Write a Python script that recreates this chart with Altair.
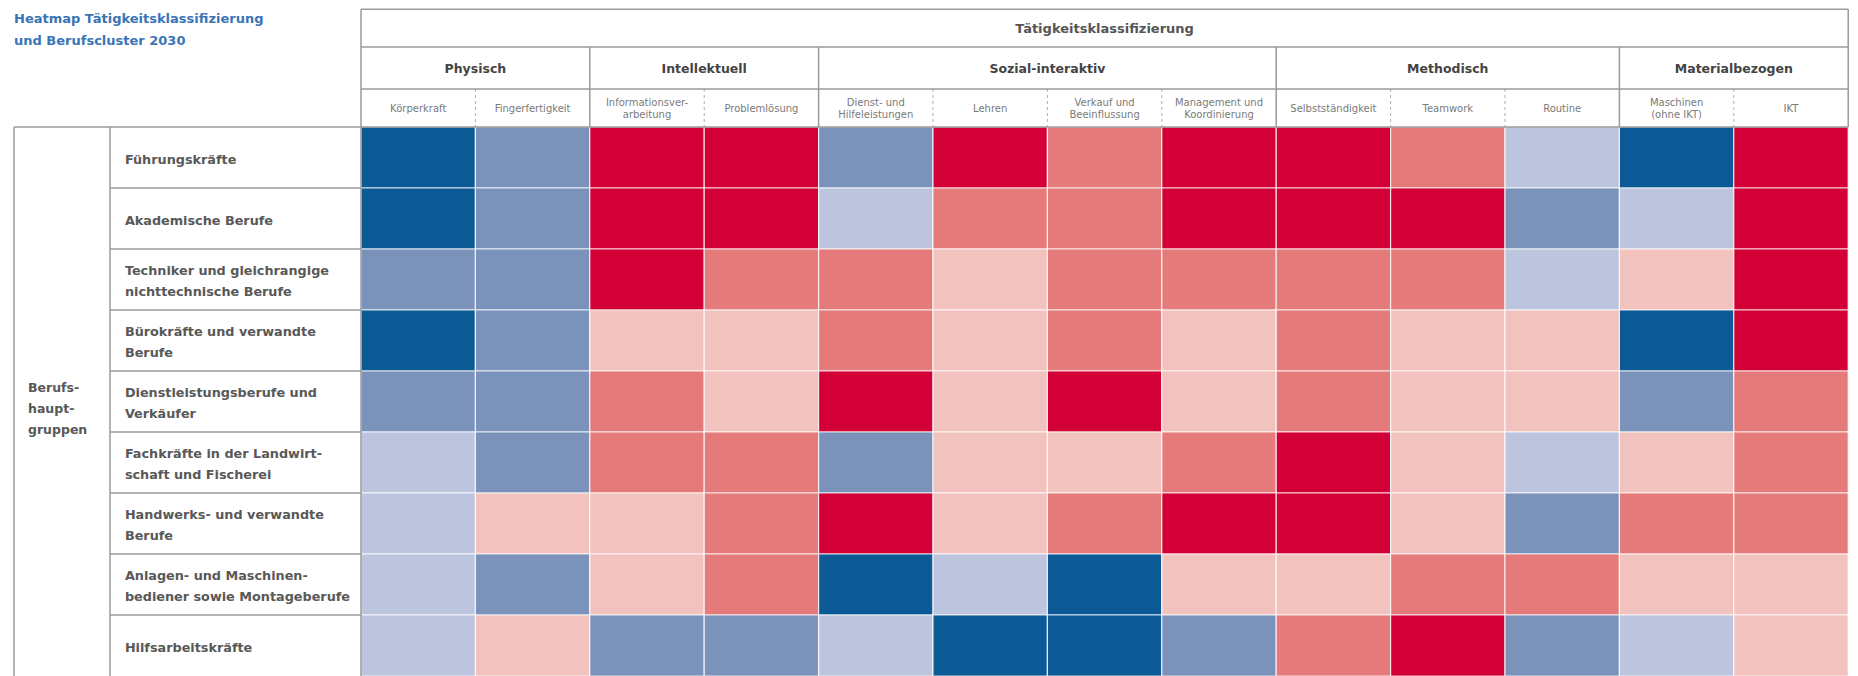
import altair as alt
import pandas as pd

# ---------------- data ----------------
title_text = "Heatmap Tätigkeitsklassifizierung\nund Berufscluster 2030"
top_header = "Tätigkeitsklassifizierung"
groups = ["Physisch", "Intellektuell", "Sozial-interaktiv", "Methodisch", "Materialbezogen"]
group_sizes = [2, 2, 4, 3, 2]
columns = [
    "Körperkraft", "Fingerfertigkeit", "Informationsver-\narbeitung", "Problemlösung",
    "Dienst- und\nHilfeleistungen", "Lehren", "Verkauf und\nBeeinflussung",
    "Management und\nKoordinierung", "Selbstständigkeit", "Teamwork", "Routine",
    "Maschinen\n(ohne IKT)", "IKT",
]
row_group_label = "Berufs-\nhaupt-\ngruppen"
rows = [
    "Führungskräfte",
    "Akademische Berufe",
    "Techniker und gleichrangige\nnichttechnische Berufe",
    "Bürokräfte und verwandte\nBerufe",
    "Dienstleistungsberufe und\nVerkäufer",
    "Fachkräfte in der Landwirt-\nschaft und Fischerei",
    "Handwerks- und verwandte\nBerufe",
    "Anlagen- und Maschinen-\nbediener sowie Montageberufe",
    "Hilfsarbeitskräfte",
]
# level codes: 1 = dark blue ... 6 = dark red
lv_fuehrung     = [1, 2, 6, 6, 2, 6, 5, 6, 6, 5, 3, 1, 6]
lv_akademisch   = [1, 2, 6, 6, 3, 5, 5, 6, 6, 6, 2, 3, 6]
lv_techniker    = [2, 2, 6, 5, 5, 4, 5, 5, 5, 5, 3, 4, 6]
lv_buero        = [1, 2, 4, 4, 5, 4, 5, 4, 5, 4, 4, 1, 6]
lv_dienstleist  = [2, 2, 5, 4, 6, 4, 6, 4, 5, 4, 4, 2, 5]
lv_landwirt     = [3, 2, 5, 5, 2, 4, 4, 5, 6, 4, 3, 4, 5]
lv_handwerk     = [3, 4, 4, 5, 6, 4, 5, 6, 6, 4, 2, 5, 5]
lv_anlagen      = [3, 2, 4, 5, 1, 3, 1, 4, 4, 5, 5, 4, 4]
lv_hilfsarbeit  = [3, 4, 2, 2, 3, 1, 1, 2, 5, 6, 2, 3, 4]
all_levels = [lv_fuehrung, lv_akademisch, lv_techniker, lv_buero, lv_dienstleist,
              lv_landwirt, lv_handwerk, lv_anlagen, lv_hilfsarbeit]
level_codes = [1, 2, 3, 4, 5, 6]
level_colors = ["#0b5a96", "#7b93bb", "#bcc4de", "#f2c2be", "#e47b7a", "#d20036"]

# ---------------- layout (in table units: 1 col, 1 row) ----------------
W, H = 1842, 668
ROW_PX = 61.0
N_COLS, N_ROWS = len(columns), len(rows)
X0 = -3.0857
X1 = X0 + W / 114.4
Y0 = -1.951
Y1 = float(N_ROWS)
HDR = [-1.93, -1.311, -0.623, 0.0]      # header row boundaries
L_OUT, L_IN = -3.033, -2.194             # left box lines
FONT = "DejaVu Sans"
GREY = "#9a9a9a"

xs = alt.Scale(domain=[X0, X1], nice=False, zero=False)
ys = alt.Scale(domain=[Y0, Y1], nice=False, zero=False, reverse=True)


def first_line_y(center, text, line_px):
    n = text.count("\n") + 1
    return center - (n - 1) * line_px / 2.0 / ROW_PX


# heatmap cells
cells = []
for r, (rname, lv) in enumerate(zip(rows, all_levels)):
    for c, (cname, v) in enumerate(zip(columns, lv)):
        cells.append({"row": rname, "col": cname, "level": v,
                      "x": c, "x2": c + 1, "y": r, "y2": r + 1})
cells = pd.DataFrame(cells)

heat = alt.Chart(cells).mark_rect(stroke="white", strokeWidth=1.2, strokeOpacity=0.8).encode(
    x=alt.X("x:Q", scale=xs, axis=None), x2="x2:Q",
    y=alt.Y("y:Q", scale=ys, axis=None), y2="y2:Q",
    color=alt.Color("level:O", scale=alt.Scale(domain=level_codes, range=level_colors), legend=None),
    tooltip=["row:N", "col:N", "level:O"],
)

# group boundaries
bounds = [0]
for s in group_sizes:
    bounds.append(bounds[-1] + s)

solid = []
solid.append({"x": 0, "x2": N_COLS, "y": HDR[0], "y2": HDR[0]})
solid.append({"x": 0, "x2": N_COLS, "y": HDR[1], "y2": HDR[1]})
solid.append({"x": 0, "x2": N_COLS, "y": HDR[2], "y2": HDR[2]})
solid.append({"x": L_OUT, "x2": N_COLS, "y": 0, "y2": 0})
solid.append({"x": 0, "x2": 0, "y": HDR[0], "y2": Y1})
solid.append({"x": N_COLS, "x2": N_COLS, "y": HDR[0], "y2": 0})
for b in bounds[1:-1]:
    solid.append({"x": b, "x2": b, "y": HDR[1], "y2": 0})
solid.append({"x": L_OUT, "x2": L_OUT, "y": 0, "y2": Y1})
solid.append({"x": L_IN, "x2": L_IN, "y": 0, "y2": Y1})
for r in range(1, N_ROWS):
    solid.append({"x": L_IN, "x2": 0, "y": r, "y2": r})
solid = pd.DataFrame(solid)

dashed = pd.DataFrame([{"x": c, "x2": c, "y": HDR[2], "y2": 0}
                       for c in range(1, N_COLS) if c not in bounds])

rule_enc = dict(x=alt.X("x:Q", scale=xs, axis=None), x2="x2:Q",
                y=alt.Y("y:Q", scale=ys, axis=None), y2="y2:Q")
solid_layer = alt.Chart(solid).mark_rule(color=GREY, strokeWidth=1.5).encode(**rule_enc)
dashed_layer = alt.Chart(dashed).mark_rule(color="#b0b0b0", strokeWidth=1, strokeDash=[3, 3]).encode(**rule_enc)


# texts
def text_layer(df, **mk):
    return alt.Chart(df).mark_text(font=FONT, lineBreak="\n", **mk).encode(
        x=alt.X("x:Q", scale=xs, axis=None),
        y=alt.Y("y:Q", scale=ys, axis=None),
        text="t:N",
    )


TITLE_LH = 22
title_df = pd.DataFrame([{"x": L_OUT, "y": first_line_y(-1.598, title_text, TITLE_LH), "t": title_text}])
title_layer = text_layer(title_df, align="left", baseline="middle", fontSize=13,
                         fontWeight="bold", color="#3a74b6", lineHeight=TITLE_LH)

top_df = pd.DataFrame([{"x": N_COLS / 2, "y": (HDR[0] + HDR[1]) / 2, "t": top_header}])
top_layer = text_layer(top_df, align="center", baseline="middle", fontSize=13,
                       fontWeight="bold", color="#555555", dy=1)

grp_df = pd.DataFrame([{"x": (bounds[i] + bounds[i + 1]) / 2, "y": (HDR[1] + HDR[2]) / 2, "t": g}
                       for i, g in enumerate(groups)])
grp_layer = text_layer(grp_df, align="center", baseline="middle", fontSize=12.5,
                       fontWeight="bold", color="#444444", dy=1)

SUB_LH = 12
sub_df = pd.DataFrame([{"x": c + 0.5, "y": first_line_y((HDR[2] + HDR[3]) / 2, n, SUB_LH), "t": n}
                       for c, n in enumerate(columns)])
sub_layer = text_layer(sub_df, align="center", baseline="middle", fontSize=10,
                       color="#7a7a7a", lineHeight=SUB_LH, dy=1)

ROW_LH = 21
row_df = pd.DataFrame([{"x": L_IN + 0.13, "y": first_line_y(r + 0.5, n, ROW_LH), "t": n}
                       for r, n in enumerate(rows)])
row_layer = text_layer(row_df, align="left", baseline="middle", fontSize=12.8,
                       fontWeight="bold", color="#585858", lineHeight=ROW_LH, dy=2)

rg_df = pd.DataFrame([{"x": -2.911, "y": first_line_y(4.62, row_group_label, ROW_LH), "t": row_group_label}])
rg_layer = text_layer(rg_df, align="left", baseline="middle", fontSize=12.5,
                      fontWeight="bold", color="#585858", lineHeight=ROW_LH)

chart = alt.layer(
    heat, dashed_layer, solid_layer, title_layer, top_layer, grp_layer, sub_layer, row_layer, rg_layer
).properties(
    width=W, height=H, padding=0,
    autosize=alt.AutoSizeParams(type="none"),
    background="white",
).configure_view(stroke=None)

chart.save("out.html", embed_options={"renderer": "svg", "actions": False})
